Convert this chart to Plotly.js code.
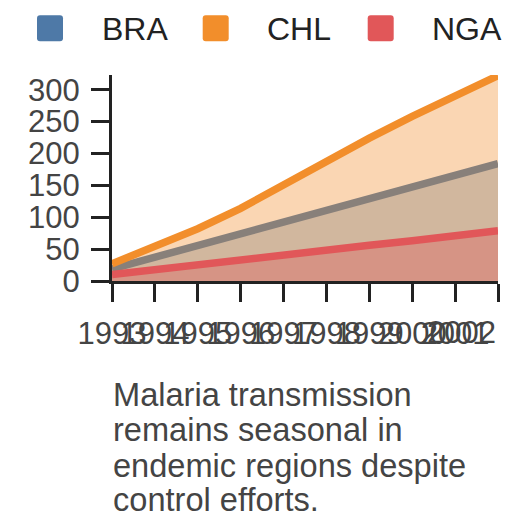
<!DOCTYPE html>
<html>
<head>
<meta charset="utf-8">
<script src="https://cdn.plot.ly/plotly-3.0.1.min.js"></script>
<style>
  html, body { margin: 0; padding: 0; background: #fff; }
  #chart { width: 528px; height: 528px; }
</style>
</head>
<body>
<div id="chart"></div>
<script>
// ---- data ----
const years = [1993, 1994, 1995, 1996, 1997, 1998, 1999, 2000, 2001, 2002];
const BRA = [19, 37, 56, 74, 93, 111, 129, 148, 166, 184];
const CHL = [27, 54, 82, 114, 151, 187, 224, 258, 290, 322];
const NGA = [10, 18, 26, 34, 41, 48, 56, 63, 71, 79];
const seriesNames = ["BRA", "CHL", "NGA"];
const yTicks = [0, 50, 100, 150, 200, 250, 300];
const titleLines = [
  "Malaria transmission",
  "remains seasonal in",
  "endemic regions despite",
  "control efforts."
];

// ---- styles ----
const seriesValues = [BRA, CHL, NGA];
const colors = ["#4e79a7", "#f28e2b", "#e15759"];
const fills = ["rgba(78,121,167,0.36)", "rgba(242,142,43,0.36)", "rgba(225,87,89,0.36)"];
const FONT = "'Liberation Sans', Arial, Helvetica, sans-serif";
const TICKSIZE = 31;

const W = 528, H = 528;
const M = { l: 112, r: 30, t: 75, b: 247 };
const PW = W - M.l - M.r, PH = H - M.t - M.b;
const px = x => (x - M.l) / PW;
const py = y => (H - M.b - y) / PH;

const traces = seriesNames.map((name, i) => ({
  type: "scatter",
  mode: "lines",
  name: name,
  x: years,
  y: seriesValues[i],
  fill: "tozeroy",
  fillcolor: fills[i],
  line: { color: colors[i], width: 7.5 },
  showlegend: false,
  hoverinfo: "x+y+name"
}));

// custom legend: rounded squares + labels
const legendBoxX = [37, 202.7, 367.7];
const legendTextX = [99.5, 264.5, 429.5];
const boxSize = 26, boxTop = 15.3, rad = 3;
function roundedRect(x0, y0, x1, y1, r) {
  const P = (a, b) => px(a).toFixed(5) + "," + py(b).toFixed(5);
  return "M" + P(x0 + r, y0) +
    " L" + P(x1 - r, y0) + " Q" + P(x1, y0) + " " + P(x1, y0 + r) +
    " L" + P(x1, y1 - r) + " Q" + P(x1, y1) + " " + P(x1 - r, y1) +
    " L" + P(x0 + r, y1) + " Q" + P(x0, y1) + " " + P(x0, y1 - r) +
    " L" + P(x0, y0 + r) + " Q" + P(x0, y0) + " " + P(x0 + r, y0) + " Z";
}
const shapes = seriesNames.map((n, i) => ({
  type: "path",
  xref: "paper", yref: "paper",
  path: roundedRect(legendBoxX[i], boxTop, legendBoxX[i] + boxSize, boxTop + boxSize, rad),
  fillcolor: colors[i],
  line: { width: 0 }
}));

const annotations = seriesNames.map((n, i) => ({
  xref: "paper", yref: "paper",
  x: px(legendTextX[i]), y: py(28.7),
  xanchor: "left", yanchor: "middle",
  text: n, showarrow: false,
  font: { family: FONT, size: 32, color: "#222" }
}));

const lineCenters = [394, 429.5, 465, 499.5];
titleLines.forEach((t, i) => {
  annotations.push({
    xref: "paper", yref: "paper",
    x: px(111), y: py(lineCenters[i]),
    xanchor: "left", yanchor: "middle",
    text: t, showarrow: false,
    font: { family: FONT, size: 32.6, color: "#444" }
  });
});

// last x label is flush to the axis end (right-aligned), as in the reference
const lastYear = years[years.length - 1];
annotations.push({
  xref: "x", yref: "paper",
  x: lastYear, y: py(332.5),
  xanchor: "right", yanchor: "middle",
  text: String(lastYear), showarrow: false,
  font: { family: FONT, size: TICKSIZE, color: "#444" }
});

const axisCommon = {
  showline: true, linewidth: 3, linecolor: "#222",
  ticks: "outside", ticklen: 18, tickwidth: 3, tickcolor: "#222",
  showgrid: false, zeroline: false,
  ticklabelstandoff: 5,
  tickfont: { family: FONT, size: TICKSIZE, color: "#444" }
};

const layout = {
  width: W, height: H,
  margin: M,
  paper_bgcolor: "#fff", plot_bgcolor: "#fff",
  showlegend: false,
  font: { family: FONT },
  xaxis: Object.assign({}, axisCommon, {
    type: "linear",
    range: [years[0], lastYear],
    tickvals: years,
    ticktext: years.map((y, i) => i === years.length - 1 ? "" : String(y)),
    tickangle: 0
  }),
  yaxis: Object.assign({}, axisCommon, {
    range: [0, 323],
    tickvals: yTicks,
    ticktext: yTicks.map(String)
  }),
  shapes: shapes,
  annotations: annotations
};

Plotly.newPlot("chart", traces, layout, { staticPlot: true, displayModeBar: false });
</script>
</body>
</html>
